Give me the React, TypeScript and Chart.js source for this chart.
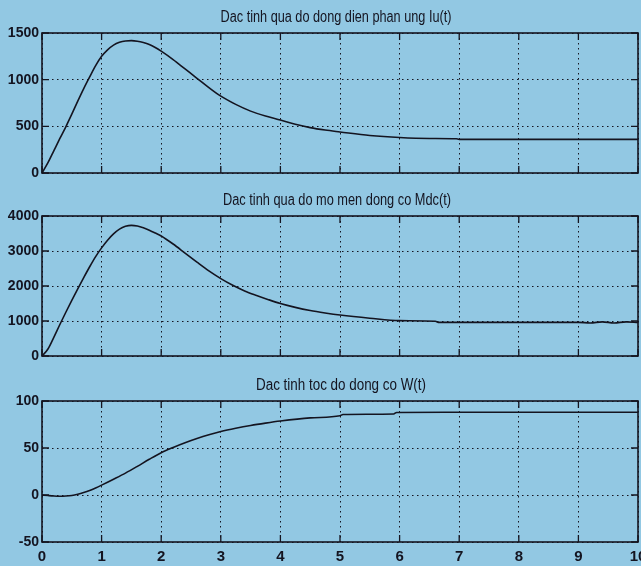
import React, { useEffect, useRef } from "react";
import { Chart, registerables } from "chart.js";

Chart.register(...registerables);

// ---------------- data ----------------
const xTicks = [0, 1, 2, 3, 4, 5, 6, 7, 8, 9, 10];

const titleIu = "Dac tinh qua do dong dien phan ung Iu(t)";
const titleMdc = "Dac tinh qua do mo men dong co Mdc(t)";
const titleW = "Dac tinh toc do dong co W(t)";

const iuTime = [0, 0.1, 0.2, 0.3, 0.4, 0.5, 0.6, 0.7, 0.8, 0.9, 1.0, 1.1, 1.2, 1.3, 1.4, 1.5, 1.6, 1.7, 1.8, 1.9, 2.0, 2.2, 2.4, 2.6, 2.8, 3.0, 3.25, 3.5, 3.75, 4.0, 4.25, 4.5, 4.75, 5.0, 5.5, 6.0, 6.5, 6.95, 7.0, 8.0, 9.0, 10.0];
const iuValues = [0, 110, 240, 370, 495, 630, 770, 905, 1030, 1150, 1250, 1320, 1370, 1400, 1415, 1418, 1412, 1398, 1377, 1345, 1305, 1215, 1115, 1015, 915, 823, 735, 663, 610, 567, 522, 486, 460, 440, 402, 380, 370, 367, 360, 360, 360, 360];

const mdcTime = [0, 0.1, 0.2, 0.3, 0.4, 0.5, 0.6, 0.7, 0.8, 0.9, 1.0, 1.1, 1.2, 1.3, 1.4, 1.5, 1.6, 1.7, 1.8, 1.9, 2.0, 2.2, 2.4, 2.6, 2.8, 3.0, 3.2, 3.4, 3.6, 3.8, 4.0, 4.25, 4.5, 4.75, 5.0, 5.5, 6.0, 6.6, 6.65, 8.0, 9.0, 9.2, 9.4, 9.6, 9.8, 10.0];
const mdcValues = [0, 200, 540, 900, 1250, 1590, 1920, 2240, 2550, 2840, 3090, 3310, 3490, 3625, 3705, 3733, 3715, 3665, 3595, 3515, 3430, 3200, 2940, 2680, 2430, 2210, 2020, 1860, 1730, 1610, 1500, 1390, 1300, 1230, 1170, 1080, 1010, 995, 962, 960, 960, 945, 975, 945, 975, 960];

const wTime = [0, 0.1, 0.2, 0.3, 0.4, 0.5, 0.6, 0.7, 0.8, 0.9, 1.0, 1.2, 1.4, 1.6, 1.8, 2.0, 2.2, 2.4, 2.6, 2.8, 3.0, 3.25, 3.5, 3.75, 4.0, 4.5, 5.0, 5.05, 5.9, 5.95, 7.0, 8.0, 9.0, 10.0];
const wValues = [0, -0.6, -1.1, -1.3, -1.1, -0.5, 0.8, 2.6, 4.8, 7.5, 10.5, 16.8, 23.3, 30.5, 38, 45, 50.5, 55.5, 60, 64, 67.5, 71, 74, 76.5, 78.7, 82, 84.3, 85.6, 86.2, 87.8, 88, 88, 88, 88];

// ---------------- helpers ----------------
const INK = "#141420";
const FONT = "'Liberation Sans', Arial, sans-serif";
const TITLE_FONT = "'Liberation Sans', Arial, sans-serif";

const framePlugin = {
  id: "matlabFrame",
  afterDraw(chart: any, _args: any, opts: any) {
    const { ctx, chartArea: a, scales } = chart;
    ctx.save();
    ctx.strokeStyle = INK;
    ctx.lineWidth = 1.6;
    ctx.strokeRect(a.left, a.top, a.right - a.left, a.bottom - a.top);
    ctx.lineWidth = 1.3;
    ctx.beginPath();
    scales.x.ticks.forEach((t: any) => {
      const x = scales.x.getPixelForValue(t.value);
      ctx.moveTo(x, a.bottom);
      ctx.lineTo(x, a.bottom - 7);
      ctx.moveTo(x, a.top);
      ctx.lineTo(x, a.top + 7);
    });
    scales.y.ticks.forEach((t: any) => {
      const y = scales.y.getPixelForValue(t.value);
      ctx.moveTo(a.left, y);
      ctx.lineTo(a.left + 7, y);
      ctx.moveTo(a.right, y);
      ctx.lineTo(a.right - 7, y);
    });
    ctx.stroke();
    if (opts && opts.text) {
      ctx.fillStyle = INK;
      ctx.font = opts.font;
      ctx.textAlign = "left";
      ctx.textBaseline = "alphabetic";
      const w = ctx.measureText(opts.text).width;
      const sx = opts.width / w;
      ctx.translate(opts.cx - opts.width / 2, a.top - opts.gap);
      ctx.scale(sx, 1);
      ctx.fillText(opts.text, 0, 0);
    }
    ctx.restore();
  },
};

type PanelProps = {
  title: string;
  titleWidth: number;
  time: number[];
  values: number[];
  yMin: number;
  yMax: number;
  yStep: number;
  top: number;
  height: number;
  padTop: number;
  xAxisHeight: number;
  showX: boolean;
  titleCx: number;
};

function Panel(p: PanelProps) {
  const ref = useRef<HTMLCanvasElement | null>(null);
  useEffect(() => {
    if (!ref.current) return;
    const data = p.time.map((t, i) => ({ x: t, y: p.values[i] }));
    const chart = new Chart(ref.current, {
      type: "line",
      data: {
        datasets: [
          {
            data,
            borderColor: INK,
            borderWidth: 1.6,
            pointRadius: 0,
            cubicInterpolationMode: "monotone",
            fill: false,
          },
        ],
      },
      options: {
        animation: false,
        responsive: false,
        maintainAspectRatio: false,
        layout: { padding: { top: p.padTop, right: 3, left: 0, bottom: 0 } },
        plugins: {
          legend: { display: false },
          tooltip: { enabled: false },
          title: { display: false },
          matlabFrame: {
            text: p.title,
            cx: p.titleCx,
            width: p.titleWidth,
            gap: 11,
            font: `16px ${TITLE_FONT}`,
          },
        } as any,
        scales: {
          x: {
            type: "linear",
            min: 0,
            max: 10,
            afterBuildTicks: (s: any) => {
              s.ticks = xTicks.map((v) => ({ value: v }));
            },
            afterFit: (s: any) => {
              s.height = p.xAxisHeight;
              s.paddingLeft = 0;
              s.paddingRight = 0;
            },
            grid: {
              color: INK,
              lineWidth: 1,
              drawTicks: false,
            },
            border: { display: false, dash: [1.5, 3.5] },
            ticks: {
              display: p.showX,
              color: INK,
              padding: 6,
              maxRotation: 0,
              autoSkip: false,
              callback: (v: any) => String(v),
              font: { family: FONT, size: 15, weight: "bold" },
            },
          },
          y: {
            type: "linear",
            min: p.yMin,
            max: p.yMax,
            afterFit: (s: any) => {
              s.width = 42;
              s.paddingTop = 0;
              s.paddingBottom = 0;
            },
            grid: {
              color: INK,
              lineWidth: 1,
              drawTicks: false,
            },
            border: { display: false, dash: [1.5, 3.5] },
            ticks: {
              stepSize: p.yStep,
              color: INK,
              padding: 3,
              callback: (v: any) => String(v),
              font: { family: FONT, size: 14, weight: "bold" },
            },
          },
        },
      },
      plugins: [framePlugin],
    });
    return () => chart.destroy();
  }, []);
  return (
    <canvas
      ref={ref}
      width={641}
      height={p.height}
      style={{ position: "absolute", left: 0, top: p.top, width: 641, height: p.height }}
    />
  );
}

export default function App() {
  return (
    <div
      style={{
        position: "fixed",
        left: 0,
        top: 0,
        width: 641,
        height: 566,
        background: "#92c8e3",
        overflow: "hidden",
      }}
    >
      <Panel title={titleIu} titleWidth={231} time={iuTime} values={iuValues} yMin={0} yMax={1500} yStep={500}
        top={0} height={185} padTop={33} xAxisHeight={12} showX={false} titleCx={336} />
      <Panel title={titleMdc} titleWidth={228} time={mdcTime} values={mdcValues} yMin={0} yMax={4000} yStep={1000}
        top={185} height={185} padTop={31} xAxisHeight={14} showX={false} titleCx={337} />
      <Panel title={titleW} titleWidth={170} time={wTime} values={wValues} yMin={-50} yMax={100} yStep={50}
        top={370} height={196} padTop={31} xAxisHeight={24} showX={true} titleCx={341} />
    </div>
  );
}
